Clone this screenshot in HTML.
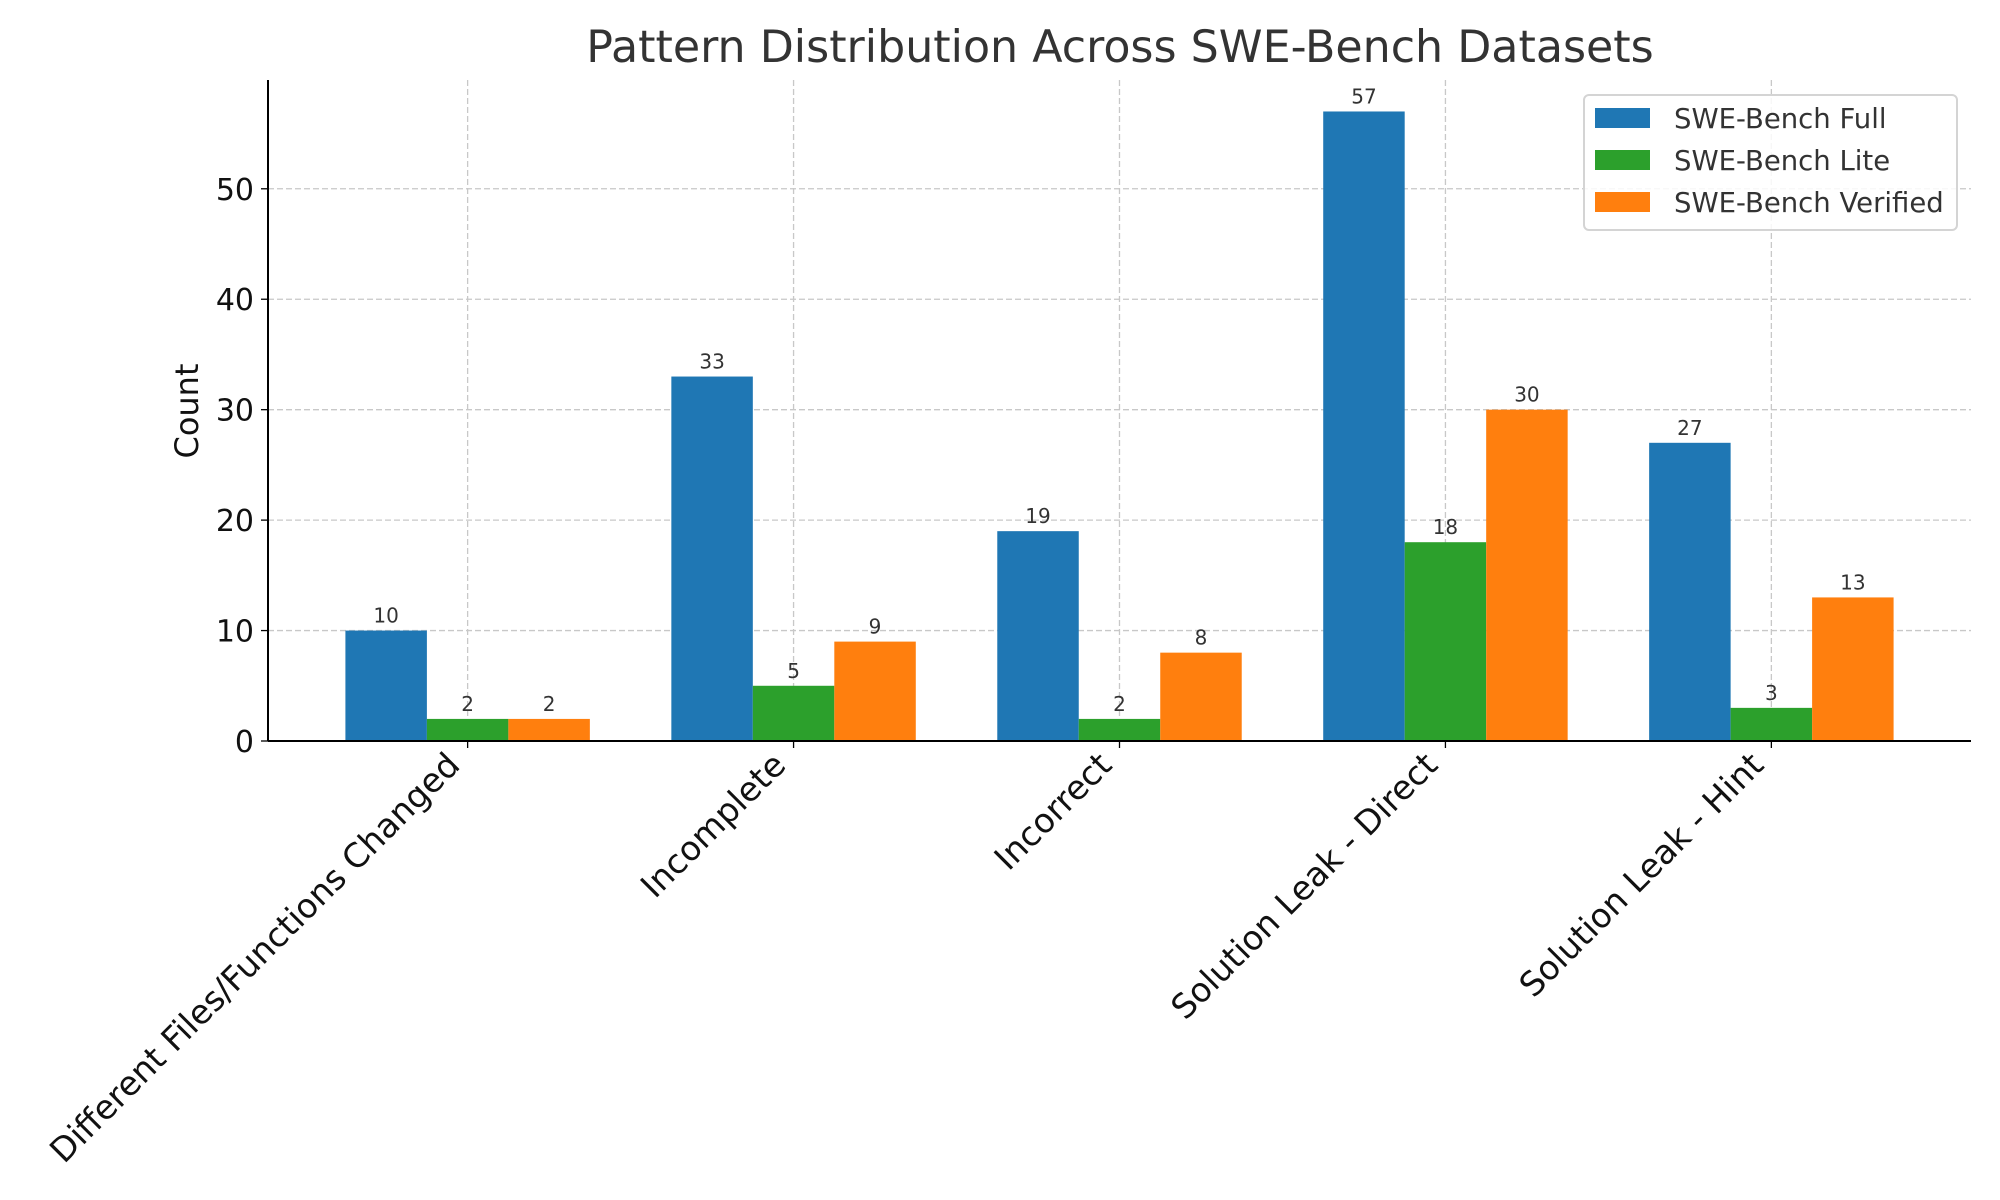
<!DOCTYPE html>
<html><head><meta charset="utf-8"><style>
html,body{margin:0;padding:0;background:#fff;}
svg{display:block;font-family:"DejaVu Sans","Liberation Sans",sans-serif;}
</style></head><body>
<svg id="chart" width="2000" height="1200" viewBox="0 0 2000 1200">
<text x="1120" y="62" font-size="44.3" fill="#333" text-anchor="middle">Pattern Distribution Across SWE-Bench Datasets</text>
<g id="grid"></g>
<g id="bars"></g>
<g id="axes"></g>
<text transform="translate(198,411) rotate(-90)" font-size="32" fill="#111" text-anchor="middle">Count</text>
<g>
<rect x="1584" y="95" width="373" height="135" rx="5" fill="#fff" fill-opacity="0.85" stroke="#d4d4d4" stroke-width="2"/>
<g><rect x="1595" y="108" width="55" height="20" fill="#1f77b4"/><text x="1674" y="128" font-size="27.5" fill="#333">SWE-Bench Full</text></g>
<g><rect x="1595" y="150" width="55" height="20" fill="#2ca02c"/><text x="1674" y="170" font-size="27.5" fill="#333">SWE-Bench Lite</text></g>
<g><rect x="1595" y="192" width="55" height="20" fill="#ff7f0e"/><text x="1674" y="212" font-size="27.5" fill="#333">SWE-Bench Verified</text></g>
</g>
</svg>
<script>
const categories = ["Different Files/Functions Changed","Incomplete","Incorrect","Solution Leak - Direct","Solution Leak - Hint"];
const fullValues = [10,33,19,57,27];
const liteValues = [2,5,2,18,3];
const verifiedValues = [2,9,8,30,13];
const yTicks = [0,10,20,30,40,50];

const NS="http://www.w3.org/2000/svg";
const L=268,R=1971,T=80,B=741;
const xMin=-0.6125,xMax=4.6125,yMax=59.85;
const xs=v=>L+(v-xMin)/(xMax-xMin)*(R-L);
const ys=v=>B-v/yMax*(B-T);
function mk(tag,attrs,parent){const e=document.createElementNS(NS,tag);for(const k in attrs)e.setAttribute(k,attrs[k]);parent.appendChild(e);return e;}
const grid=document.getElementById('grid'),bars=document.getElementById('bars'),axes=document.getElementById('axes');
yTicks.forEach(t=>{
  const y=ys(t);
  const g=mk('line',{x1:L,x2:R,y1:y,y2:y,stroke:'#c8c8c8','stroke-width':1.3,'stroke-dasharray':'6,3'},grid);
  
  
  mk('line',{x1:L-7,x2:L,y1:y,y2:y,stroke:'#000','stroke-width':1.3},axes);
  const tx=mk('text',{x:L-14,y:y+11,'font-size':30,'text-anchor':'end',fill:'#111'},axes);
  tx.textContent=t;
  
  
});
categories.forEach((c,i)=>{
  const x=xs(i);
  const g=mk('line',{x1:x,x2:x,y1:T,y2:B,stroke:'#c8c8c8','stroke-width':1.3,'stroke-dasharray':'6,3'},grid);
  
  
  mk('line',{x1:x,x2:x,y1:B,y2:B+7,stroke:'#000','stroke-width':1.3},axes);
  const tx=mk('text',{transform:`translate(${x-6},${B+26}) rotate(-45)`,'font-size':33.5,'text-anchor':'end',fill:'#111'},axes);
  tx.textContent=c;
  
  
});
const series=[[fullValues,'#1f77b4',-0.25,'full'],[liteValues,'#2ca02c',0,'lite'],[verifiedValues,'#ff7f0e',0.25,'verified']];
series.forEach(([vals,col,off,nm])=>{
  vals.forEach((v,i)=>{
    const x0=xs(i+off-0.125),x1=xs(i+off+0.125);
    const r=mk('rect',{x:x0,y:ys(v),width:x1-x0,height:B-ys(v),fill:col},bars);
    
    
    const t=mk('text',{x:(x0+x1)/2,y:ys(v)-8,'font-size':20,'text-anchor':'middle',fill:'#333'},bars);
    t.textContent=v;
    
    
  });
});
mk('line',{x1:L,x2:L,y1:T,y2:B,stroke:'#000','stroke-width':2},axes);
mk('line',{x1:L,x2:R,y1:B,y2:B,stroke:'#000','stroke-width':2},axes);
</script>
</body></html>
